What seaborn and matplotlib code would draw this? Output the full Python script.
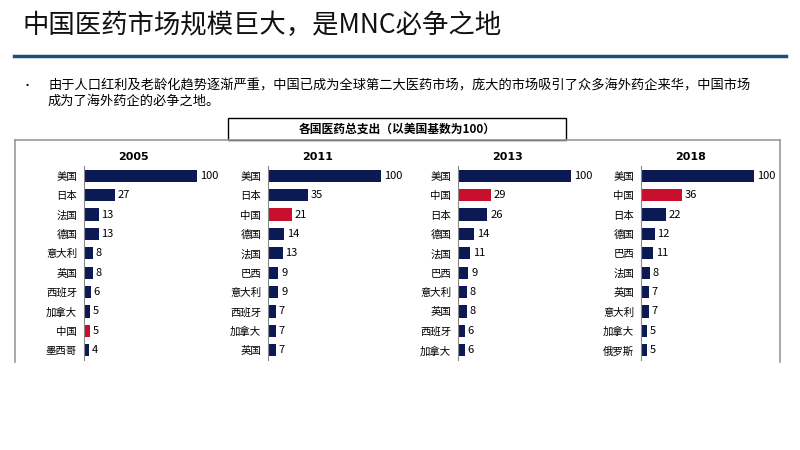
import matplotlib
matplotlib.use("Agg")
import matplotlib.pyplot as plt
import seaborn as sns
import pandas as pd
from matplotlib.patches import Rectangle
from matplotlib.lines import Line2D

plt.rcParams["font.family"] = ["Noto Sans CJK SC", "DejaVu Sans"]

years = ["2005", "2011", "2013", "2018"]
countries_2005 = ["美国", "日本", "法国", "德国", "意大利", "英国", "西班牙", "加拿大", "中国", "墨西哥"]
values_2005 = [100, 27, 13, 13, 8, 8, 6, 5, 5, 4]
countries_2011 = ["美国", "日本", "中国", "德国", "法国", "巴西", "意大利", "西班牙", "加拿大", "英国"]
values_2011 = [100, 35, 21, 14, 13, 9, 9, 7, 7, 7]
countries_2013 = ["美国", "中国", "日本", "德国", "法国", "巴西", "意大利", "英国", "西班牙", "加拿大"]
values_2013 = [100, 29, 26, 14, 11, 9, 8, 8, 6, 6]
countries_2018 = ["美国", "中国", "日本", "德国", "巴西", "法国", "英国", "意大利", "加拿大", "俄罗斯"]
values_2018 = [100, 36, 22, 12, 11, 8, 7, 7, 5, 5]

panels = [(countries_2005, values_2005), (countries_2011, values_2011),
          (countries_2013, values_2013), (countries_2018, values_2018)]
axis_x = [84, 268, 458, 641]

W, H = 800, 450
fig = plt.figure(figsize=(8, 4.5), dpi=100)

def fx(x): return x / W
def fy(y): return 1 - y / H

fig.text(fx(22), fy(25), "中国医药市场规模巨大，是MNC必争之地", fontsize=19, va="center", ha="left", color="#111111")
fig.add_artist(Line2D([fx(14), fx(786)], [fy(56), fy(56)], color="#1f4e79", lw=2.5))
fig.text(fx(22), fy(86), "•", fontsize=8, va="center")
fig.text(fx(48), fy(86), "由于人口红利及老龄化趋势逐渐严重，中国已成为全球第二大医药市场，庞大的市场吸引了众多海外药企来华，中国市场",
         fontsize=9.5, va="center")
fig.text(fx(48), fy(101), "成为了海外药企的必争之地。", fontsize=9.5, va="center")

fig.add_artist(Rectangle((fx(228), fy(140)), fx(338), 22 / H, fill=False, ec="black", lw=1))
fig.text(fx(397), fy(129), "各国医药总支出（以美国基数为100）", fontsize=8.5, ha="center", va="center", fontweight="bold")
fig.add_artist(Line2D([fx(15), fx(15)], [fy(140), fy(362)], color="#999999", lw=1.2))
fig.add_artist(Line2D([fx(780), fx(780)], [fy(140), fy(362)], color="#999999", lw=1.2))
fig.add_artist(Line2D([fx(15), fx(780)], [fy(140), fy(140)], color="#999999", lw=1.2))

for (cats, vals), yr, ax0 in zip(panels, years, axis_x):
    ax = fig.add_axes([fx(ax0), fy(360), 130 / W, 194 / H])
    df = pd.DataFrame({"country": cats, "value": vals,
                       "grp": ["cn" if c == "中国" else "o" for c in cats]})
    sns.barplot(data=df, x="value", y="country", hue="grp", dodge=False, legend=False,
                palette={"cn": "#c8102e", "o": "#0b1a55"}, saturation=1, width=0.62, ax=ax, order=cats)
    ax.set_xlim(0, 115)
    ax.set_xlabel(""); ax.set_ylabel("")
    ax.set_xticks([])
    for s in ["top", "right", "bottom"]:
        ax.spines[s].set_visible(False)
    ax.spines["left"].set_color("#888888")
    ax.tick_params(axis="y", length=0, labelsize=7.5, pad=5)
    for i, v in enumerate(vals):
        ax.text(v + 2.5, i, str(v), va="center", ha="left", fontsize=8)
    ax.set_title(yr, fontsize=8, fontweight="bold", fontfamily="DejaVu Sans", pad=4, x=0.38)

fig.savefig("out.png", dpi=100, facecolor="white")
